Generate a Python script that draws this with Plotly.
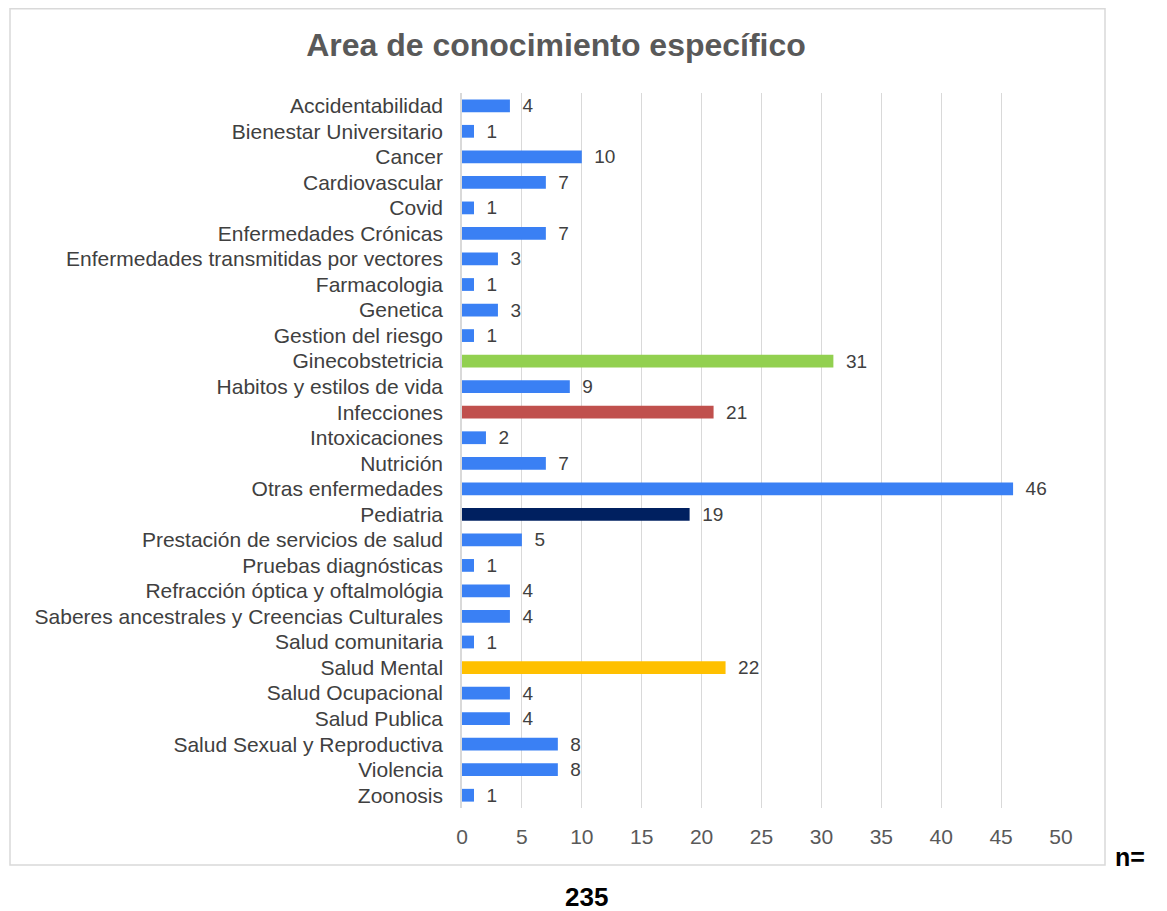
import plotly.graph_objects as go

# datos (de arriba hacia abajo)
areas = [
    "Accidentabilidad", "Bienestar Universitario", "Cancer", "Cardiovascular", "Covid",
    "Enfermedades Crónicas", "Enfermedades transmitidas por vectores", "Farmacologia",
    "Genetica", "Gestion del riesgo", "Ginecobstetricia", "Habitos y estilos de vida",
    "Infecciones", "Intoxicaciones", "Nutrición", "Otras enfermedades", "Pediatria",
    "Prestación de servicios de salud", "Pruebas diagnósticas",
    "Refracción óptica y oftalmológia", "Saberes ancestrales y Creencias Culturales",
    "Salud comunitaria", "Salud Mental", "Salud Ocupacional", "Salud Publica",
    "Salud Sexual y Reproductiva", "Violencia", "Zoonosis",
]
conteos = [4, 1, 10, 7, 1, 7, 3, 1, 3, 1, 31, 9, 21, 2, 7, 46, 19, 5, 1, 4, 4, 1, 22, 4, 4, 8, 8, 1]
total_n = "235"

# colores destacados
azul = "#3A80F4"
destacados = {
    "Ginecobstetricia": "#92D050",
    "Infecciones": "#C0504D",
    "Pediatria": "#002060",
    "Salud Mental": "#FFC000",
}
colores = [destacados.get(a, azul) for a in areas]

FONT = "Liberation Sans, Arial, sans-serif"

fig = go.Figure()
fig.add_trace(go.Bar(
    y=areas, x=conteos, orientation="h",
    marker=dict(color=colores, line=dict(width=0)),
    width=0.5,
    # espacio para separar la etiqueta de la barra
    text=["\u2002" + str(v) for v in conteos], textposition="outside", constraintext="none",
    textfont=dict(family=FONT, size=19, color="#404040"),
    cliponaxis=False,
))

# la pagina tiene 8px de margen en el body
W, H = 1159, 903
L, R, T, B = 454, 106, 85, 103
pw, ph = W - L - R, H - T - B


def px(x):
    return (x - L) / pw


def py(y):
    return (H - B - y) / ph


# marco exterior
fig.add_shape(
    type="rect", xref="paper", yref="paper", layer="below",
    x0=px(2), x1=px(1097), y0=py(857), y1=py(0.8),
    line=dict(color="#D9D9D9", width=1.5), fillcolor="white",
)

fig.update_layout(
    width=W, height=H,
    margin=dict(l=L, r=R, t=T, b=B),
    paper_bgcolor="white", plot_bgcolor="rgba(0,0,0,0)",
    showlegend=False,
    title=dict(text="<b>Area de conocimiento específico</b>", x=548 / W, xanchor="center",
               y=1 - 37 / H, yanchor="middle",
               font=dict(family=FONT, size=32, color="#595959")),
    xaxis=dict(range=[0, 50], dtick=5, showgrid=True, gridcolor="#D9D9D9", gridwidth=1.3,
               zeroline=False, showline=False, ticks="", ticklabelstandoff=14,
               tickfont=dict(family=FONT, size=21, color="#595959")),
    yaxis=dict(autorange="reversed", showgrid=False, showline=True, linecolor="#D9D9D9",
               linewidth=1.5, ticks="", ticklabelstandoff=13,
               tickfont=dict(family=FONT, size=21, color="#404040")),
    annotations=[
        dict(text="<b>n=</b>", xref="paper", yref="paper", x=px(1122), y=py(849),
             showarrow=False, xanchor="center", yanchor="middle",
             font=dict(family=FONT, size=25, color="black")),
        dict(text="<b>" + total_n + "</b>", xref="paper", yref="paper", x=px(578),
             y=py(889), showarrow=False, xanchor="center", yanchor="middle",
             font=dict(family=FONT, size=26, color="black")),
    ],
)

fig.write_html("out.html")
